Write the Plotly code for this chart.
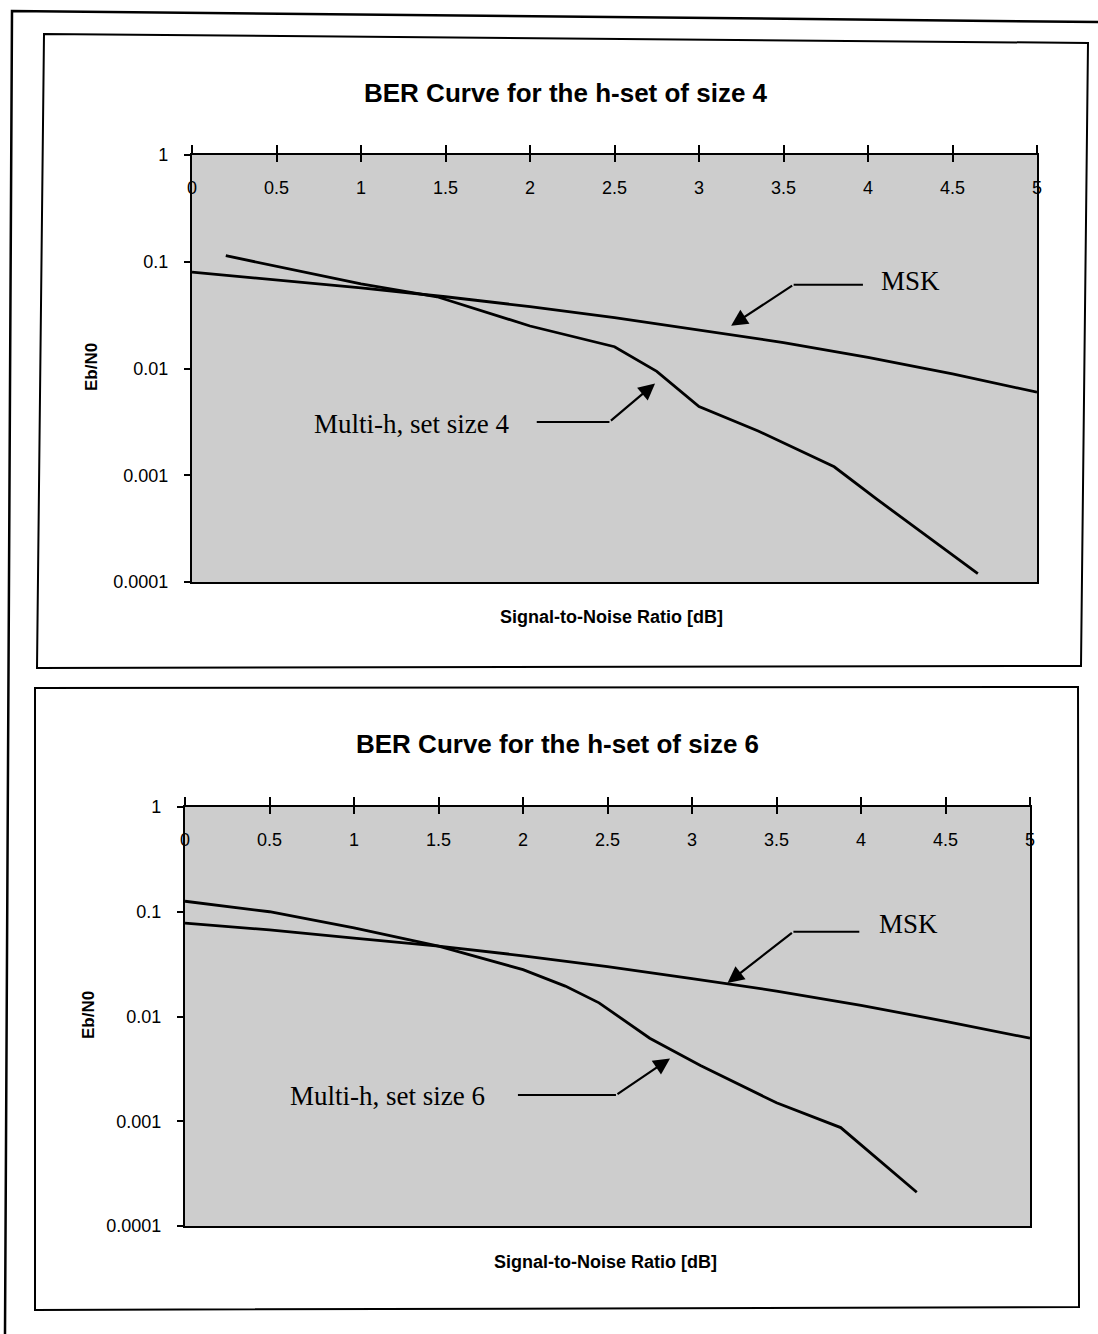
import plotly.graph_objects as go

# ---------------- data ----------------
snr_msk = [0.0, 0.5, 1.0, 1.5, 2.0, 2.5, 3.0, 3.5, 4.0, 4.5, 5.0]
msk_size4 = [0.080, 0.068, 0.057, 0.047, 0.038, 0.030, 0.023, 0.0175, 0.0127, 0.0089, 0.0060]
msk_size6 = [0.078, 0.067, 0.056, 0.047, 0.038, 0.030, 0.023, 0.0175, 0.0128, 0.0090, 0.0062]

snr_multi4 = [0.2, 1.0, 1.45, 2.0, 2.5, 2.75, 3.0, 3.35, 3.8, 4.05, 4.65]
ber_multi4 = [0.114, 0.062, 0.047, 0.025, 0.016, 0.0094, 0.0044, 0.0026, 0.0012, 0.0006, 0.00012]

snr_multi6 = [0.0, 0.5, 1.0, 1.5, 2.0, 2.25, 2.45, 2.75, 3.05, 3.5, 3.88, 4.33]
ber_multi6 = [0.126, 0.100, 0.070, 0.047, 0.028, 0.0195, 0.0135, 0.0062, 0.0034, 0.0015, 0.00087, 0.00021]

x_ticks = [0, 0.5, 1, 1.5, 2, 2.5, 3, 3.5, 4, 4.5, 5]
x_ticktext = ["0", "0.5", "1", "1.5", "2", "2.5", "3", "3.5", "4", "4.5", "5"]
y_ticks = [1, 0.1, 0.01, 0.001, 0.0001]
y_ticktext = ["1", "0.1", "0.01", "0.001", "0.0001"]

titles = ["BER Curve for the h-set of size 4", "BER Curve for the h-set of size 6"]
multi_labels = ["Multi-h, set size 4", "Multi-h, set size 6"]
x_title = "Signal-to-Noise Ratio [dB]"
y_title = "Eb/N0"

# ---------------- layout helpers ----------------
W, H = 1098, 1334
def px(x):
    return x / W
def py(y):
    return 1 - y / H

SANS = "Liberation Sans, Arial, sans-serif"
SERIF = "Liberation Serif, Times New Roman, serif"
LINE = dict(color="black", width=2.8)

fig = go.Figure()

fig.add_trace(go.Scatter(x=snr_msk, y=msk_size4, mode="lines", line=LINE, xaxis="x", yaxis="y", name="MSK"))
fig.add_trace(go.Scatter(x=snr_multi4, y=ber_multi4, mode="lines", line=LINE, xaxis="x", yaxis="y", name=multi_labels[0]))
fig.add_trace(go.Scatter(x=snr_msk, y=msk_size6, mode="lines", line=LINE, xaxis="x2", yaxis="y2", name="MSK"))
fig.add_trace(go.Scatter(x=snr_multi6, y=ber_multi6, mode="lines", line=LINE, xaxis="x2", yaxis="y2", name=multi_labels[1]))

# horizontal parts of the callout connectors
conn = [
    ("x", "y", [3.97, 3.56], -1.215),
    ("x", "y", [2.04, 2.47], -2.50),
    ("x2", "y2", [3.99, 3.60], -1.19),
    ("x2", "y2", [1.97, 2.55], -2.75),
]
for xa, ya, xs, ly in conn:
    fig.add_trace(go.Scatter(x=xs, y=[10 ** ly, 10 ** ly], mode="lines",
                             line=dict(color="black", width=2), xaxis=xa, yaxis=ya,
                             hoverinfo="skip"))

fig.add_trace(go.Scatter(x=[None], y=[None], xaxis="x3", yaxis="y", hoverinfo="skip"))
fig.add_trace(go.Scatter(x=[None], y=[None], xaxis="x4", yaxis="y2", hoverinfo="skip"))

plots = [
    dict(x0=192, x1=1037, y0=155, y1=582),
    dict(x0=185, x1=1030, y0=807, y1=1226),
]

def xaxis_main(p, anchor):
    return dict(domain=[px(p["x0"]), px(p["x1"])], range=[0, 5], anchor=anchor, side="top",
                tickmode="array", tickvals=x_ticks, ticktext=x_ticktext,
                ticks="outside", ticklen=8, tickwidth=1.5, tickcolor="black",
                ticklabelposition="inside", ticklabelstandoff=27, ticklabeloverflow="allow",
                tickfont=dict(family=SANS, size=18, color="black"),
                showline=True, linecolor="black", linewidth=2.4, mirror=True,
                showgrid=False, zeroline=False, automargin=False)

def xaxis_overlay(p, anchor, over):
    return dict(domain=[px(p["x0"]), px(p["x1"])], range=[0, 5], anchor=anchor, side="top",
                overlaying=over, tickmode="array", tickvals=x_ticks,
                ticks="inside", ticklen=7, tickwidth=1.5, tickcolor="black",
                showticklabels=False, showline=False, showgrid=False, zeroline=False,
                automargin=False)

def yaxis_main(p, anchor):
    return dict(domain=[py(p["y1"]), py(p["y0"])], type="log", range=[-4, 0], anchor=anchor,
                tickmode="array", tickvals=y_ticks, ticktext=y_ticktext,
                ticks="outside", ticklen=6, tickwidth=1.5, tickcolor="black",
                ticklabelstandoff=12,
                tickfont=dict(family=SANS, size=18, color="black"),
                showline=True, linecolor="black", linewidth=2.4, mirror=True,
                showgrid=False, zeroline=False, automargin=False)

fig.update_layout(
    width=W, height=H, margin=dict(l=0, r=0, t=0, b=0, pad=0, autoexpand=False),
    paper_bgcolor="white", plot_bgcolor="#cdcdcd", showlegend=False,
    xaxis=xaxis_main(plots[0], "y"),
    yaxis=yaxis_main(plots[0], "x"),
    xaxis2=xaxis_main(plots[1], "y2"),
    yaxis2=yaxis_main(plots[1], "x2"),
    xaxis3=xaxis_overlay(plots[0], "y", "x"),
    xaxis4=xaxis_overlay(plots[1], "y2", "x2"),
)

annotations = []
title_pos = [(566, 93), (557, 744)]
xt_pos = [(611, 617), (605, 1262)]
yt_pos = [(91, 367), (88, 1015)]
for i in range(2):
    annotations.append(dict(text="<b>" + titles[i] + "</b>", x=px(title_pos[i][0]), y=py(title_pos[i][1]),
                            xref="paper", yref="paper", showarrow=False,
                            font=dict(family=SANS, size=26, color="black"),
                            xanchor="center", yanchor="middle"))
    annotations.append(dict(text="<b>" + x_title + "</b>", x=px(xt_pos[i][0]), y=py(xt_pos[i][1]),
                            xref="paper", yref="paper", showarrow=False,
                            font=dict(family=SANS, size=18, color="black"),
                            xanchor="center", yanchor="middle"))
    annotations.append(dict(text="<b>" + y_title + "</b>", x=px(yt_pos[i][0]), y=py(yt_pos[i][1]),
                            xref="paper", yref="paper", showarrow=False, textangle=-90,
                            font=dict(family=SANS, size=17, color="black"),
                            xanchor="center", yanchor="middle"))

labels = [
    ("x", "y", "MSK", 4.25, -1.18),
    ("x", "y", multi_labels[0], 1.30, -2.52),
    ("x2", "y2", "MSK", 4.28, -1.12),
    ("x2", "y2", multi_labels[1], 1.20, -2.76),
]
for xa, ya, t, x, ly in labels:
    annotations.append(dict(text=t, x=x, y=ly, xref=xa, yref=ya, showarrow=False,
                            font=dict(family=SERIF, size=27, color="black"),
                            xanchor="center", yanchor="middle"))

arrows = [
    ("x", "y", 3.56, -1.215, 3.19, -1.60),
    ("x", "y", 2.47, -2.50, 2.74, -2.14),
    ("x2", "y2", 3.60, -1.19, 3.21, -1.68),
    ("x2", "y2", 2.55, -2.75, 2.87, -2.40),
]
for xa, ya, tx, ty, hx, hy in arrows:
    annotations.append(dict(text="", x=hx, y=hy, ax=tx, ay=ty, xref=xa, yref=ya,
                            axref=xa, ayref=ya, showarrow=True, arrowhead=2,
                            arrowsize=1.5, arrowwidth=2.2, arrowcolor="black", standoff=0))

fig.update_layout(annotations=annotations)

def path_from(points):
    pts = [f"{px(x):.5f},{py(y):.5f}" for x, y in points]
    return "M " + " L ".join(pts)

shapes = [
    dict(type="path", xref="paper", yref="paper",
         path=path_from([(44, 34), (1088, 43), (1081, 666), (37, 668)]) + " Z",
         line=dict(color="black", width=2)),
    dict(type="path", xref="paper", yref="paper",
         path=path_from([(35, 688), (1078, 687), (1079, 1307), (35, 1310)]) + " Z",
         line=dict(color="black", width=2)),
    dict(type="path", xref="paper", yref="paper",
         path=path_from([(1098, 22), (12, 11), (5, 1334)]),
         line=dict(color="black", width=2.5)),
]
fig.update_layout(shapes=shapes)

fig.write_html("out.html")
